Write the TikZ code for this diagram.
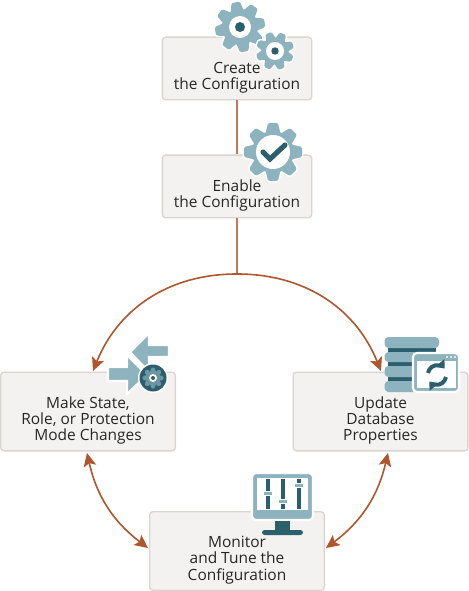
\documentclass[tikz,border=0pt]{standalone}
\usepackage{fontspec}
\setmainfont{Open Sans}
\usepackage{xcolor}
\usetikzlibrary{arrows.meta,positioning}
\definecolor{iconlight}{HTML}{8DB3BF}
\definecolor{icondark}{HTML}{2B5F6D}
\definecolor{boxfill}{HTML}{F3F2F0}
\definecolor{boxline}{HTML}{DAD5CF}
\definecolor{flowline}{HTML}{B0562F}

\tikzset{
  gearhalo/.style={draw=white, line width=2.2pt, fill=white},
  gearbody/.style={fill=gearcolor},
}

% gear: centre, outer radius, colour, start angle, passes
\newcommand{\drawgear}[5]{
  \colorlet{gearcolor}{#3}
  \begin{scope}[shift={#1}]
    \foreach \pass in {#5} {
      \path[\pass] (0,0) circle ({0.72*#2});
      \foreach \a in {0,45,...,315} {
        \path[\pass,rotate=\a+#4,rounded corners=1pt]
          ({-0.27*#2},{0.6*#2}) -- ({-0.17*#2},#2) -- ({0.17*#2},#2) -- ({0.27*#2},{0.6*#2}) -- cycle;
      }
    }
  \end{scope}
}

\begin{document}
\begin{tikzpicture}[
    x=0.75pt, y=0.75pt,
    stepbox/.style={draw=boxline, fill=boxfill, line width=1pt, rounded corners=2.5pt},
    steptext/.style={align=center, font=\fontsize{11.6}{12.3}\selectfont, text=black!85, inner sep=0pt, yshift=-6.8pt},
    flow/.style={draw=flowline, line width=1.2pt, {Stealth[length=10pt,width=9.5pt,inset=2.2pt]}-{Stealth[length=10pt,width=9.5pt,inset=2.2pt]}},
    oneway/.style={draw=flowline, line width=1.2pt, -{Stealth[length=10pt,width=9.5pt,inset=2.2pt]}},
    trunk/.style={draw=flowline!80!white, line width=1.1pt},
    halo/.style={draw=white, line width=1.6pt, fill=iconlight},
    syncarc/.style={draw=icondark, line width=3pt, -{Triangle[length=5.5pt,width=8.5pt]}},
  ]
  \useasboundingbox (0,0) rectangle (468,-591);

  % Boxes
  \node[stepbox, minimum width=112pt, minimum height=47pt] (create) at (237,-68.5) {};
  \node[stepbox, minimum width=112pt, minimum height=47pt] (enable) at (237,-186.5) {};
  \node[stepbox, minimum width=131pt, minimum height=59pt] (state) at (88,-411.5) {};
  \node[stepbox, minimum width=131pt, minimum height=59pt] (update) at (380.5,-411.5) {};
  \node[stepbox, minimum width=131pt, minimum height=59pt] (monitor) at (237,-551) {};

  % Labels
  \node[steptext] (createtext) at (create) {Create\\the Configuration};
  \node[steptext] (enabletext) at (enable) {Enable\\the Configuration};
  \node[steptext] (statetext) at (state) {Make State,\\Role, or Protection\\Mode Changes};
  \node[steptext] (updatetext) at (update) {Update\\Database\\Properties};
  \node[steptext] (monitortext) at (monitor) {Monitor\\and Tune the\\Configuration};

  % Connectors
  \coordinate (hub) at (237,-274);
  \coordinate (statein) at (93,-371);
  \coordinate (updatein) at (381,-371);
  \coordinate (statebot) at (87,-453);
  \coordinate (updatebot) at (388,-453);
  \coordinate (monleft) at (148,-548);
  \coordinate (monright) at (326,-548);
  \draw[trunk] (create) -- (enable);
  \draw[trunk] (enable) -- (hub);
  \draw[oneway] (hub) to[bend right=34] (statein);
  \draw[oneway] (hub) to[bend left=34] (updatein);
  \draw[flow] (statebot) to[bend right=20] (monleft);
  \draw[flow] (updatebot) to[bend left=20] (monright);

  % Create icon
  \drawgear{(240,-27)}{25}{iconlight}{10}{gearhalo,gearbody}
  \fill[white] (240,-27) circle (11);
  \fill[icondark] (240,-27) circle (5);
  \drawgear{(275,-51)}{19}{iconlight}{20}{gearhalo,gearbody}
  \fill[white] (275,-51) circle (9);
  \fill[icondark] (275,-51) circle (3.7);

  % Enable icon
  \drawgear{(273,-152)}{29}{iconlight}{0}{gearhalo,gearbody}
  \fill[white] (273,-152) circle (17);
  \draw[icondark, line width=3.8pt, line cap=round, line join=miter]
    (263,-152) -- (270,-159) -- (285,-145);

  % State icon
  \path[halo] (130,-352) -- (149,-333) -- (149,-345) -- (169,-345) -- (169,-357)
    -- (149,-357) -- (149,-372) -- cycle;
  \path[halo] (108,-367) -- (127,-367) -- (127,-355) -- (147,-375) -- (127,-394)
    -- (127,-381) -- (108,-381) -- cycle;
  \fill[white] (153,-378) circle (15);
  \fill[icondark] (153,-378) circle (13.5);
  \drawgear{(153,-378)}{10.5}{iconlight!65!icondark}{0}{gearbody}
  \fill[white] (153,-378) circle (4);
  \fill[icondark] (153,-378) circle (2);

  % Update icon
  \fill[icondark] (388,-348) rectangle (436,-381);
  \foreach \top/\bot in {337/348,352/362,366/377,381/392} {
    \fill[iconlight, rounded corners=3pt] (384.5,-\top) rectangle (439,-\bot);
  }
  \draw[white, line width=1.6pt, fill=iconlight, rounded corners=3pt] (413,-353) rectangle (459,-392);
  \fill[white] (417,-361) rectangle (456,-388);
  \foreach \dotx in {447,451,455} {
    \fill[white] (\dotx,-357) circle (1.1);
  }
  \draw[syncarc] (428,-373) arc (170:40:9.5);
  \draw[syncarc] (446,-377) arc (350:220:9.5);

  % Monitor icon
  \draw[white, line width=1.6pt, fill=iconlight, rounded corners=3pt] (252,-473) rectangle (313,-520);
  \fill[white] (257,-478) rectangle (308,-510);
  \fill[icondark] (275,-521) rectangle (290,-531);
  \fill[icondark, rounded corners=2pt] (262,-530) rectangle (303,-535);
  \foreach \sx/\sy in {268/493,283/501,299/485} {
    \fill[icondark] (\sx-1.8,-479) rectangle (\sx+1.8,-509);
    \fill[white] (\sx-4.5,-\sy-2.5) rectangle (\sx+4.5,-\sy+2.5);
    \fill[iconlight] (\sx-3.8,-\sy-1.5) rectangle (\sx+3.8,-\sy+1.5);
  }
\end{tikzpicture}
\end{document}
